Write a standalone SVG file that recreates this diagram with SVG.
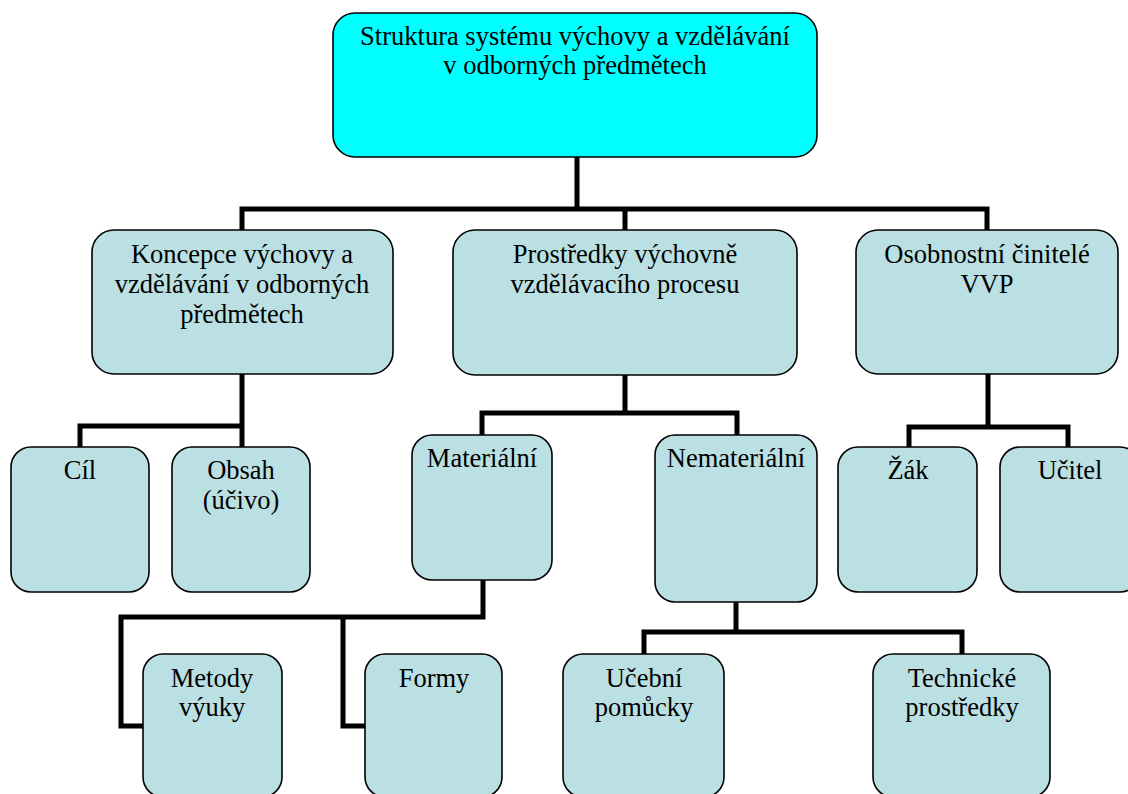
<svg xmlns="http://www.w3.org/2000/svg" width="1128" height="794" viewBox="0 0 1128 794" font-family="Liberation Serif, Times New Roman, DejaVu Serif, serif">
<style>
.box{fill:#BBE0E3;stroke:#000;stroke-width:1.6}
.root{fill:#00FFFF;stroke:#000;stroke-width:1.6}
.t{font-size:26.5px;fill:#000;text-anchor:middle}
.c{fill:none;stroke:#000;stroke-width:5;stroke-linejoin:miter;stroke-linecap:square}
</style>
<rect width="1128" height="794" fill="#fff"/>
<g id="connectors">
<path class="c" d="M577 158V209M242 229V209H987V229M625 209V229"/>
<path class="c" d="M242 375V426H80V446M242 426V446"/>
<path class="c" d="M625 376V413H482V434M625 413H737V434"/>
<path class="c" d="M988 375V427H909V446M988 427H1068V446"/>
<path class="c" d="M483 581V617H121V726H143M343 617V726H365"/>
<path class="c" d="M736 603V632H644V653M736 632H962V653"/>
</g>
<g id="root"><rect class="root" x="333" y="13" width="484" height="144" rx="22"/>
<text class="t" x="575" y="45">Struktura systému výchovy a vzdělávání</text>
<text class="t" x="575" y="74">v odborných předmětech</text></g>
<g id="koncepce"><rect class="box" x="92" y="230" width="301" height="144" rx="22"/>
<text class="t" x="242" y="263">Koncepce výchovy a</text>
<text class="t" x="242" y="293">vzdělávání v odborných</text>
<text class="t" x="242" y="323">předmětech</text></g>
<g id="prostredky"><rect class="box" x="453" y="230" width="344" height="145" rx="22"/>
<text class="t" x="625" y="263">Prostředky výchovně</text>
<text class="t" x="625" y="293">vzdělávacího procesu</text></g>
<g id="osobnostni"><rect class="box" x="856" y="230" width="262" height="144" rx="22"/>
<text class="t" x="987" y="263">Osobnostní činitelé</text>
<text class="t" x="987" y="293">VVP</text></g>
<g id="cil"><rect class="box" x="11" y="447" width="138" height="145" rx="20"/>
<text class="t" x="80" y="479">Cíl</text></g>
<g id="obsah"><rect class="box" x="172" y="447" width="138" height="145" rx="20"/>
<text class="t" x="241" y="479">Obsah</text>
<text class="t" x="241" y="509">(účivo)</text></g>
<g id="materialni"><rect class="box" x="412" y="435" width="140" height="145" rx="20"/>
<text class="t" x="482" y="467">Materiální</text></g>
<g id="nematerialni"><rect class="box" x="655" y="435" width="162" height="167" rx="20"/>
<text class="t" x="736" y="467">Nemateriální</text></g>
<g id="zak"><rect class="box" x="838" y="447" width="139" height="145" rx="20"/>
<text class="t" x="908" y="479">Žák</text></g>
<g id="ucitel"><rect class="box" x="1000" y="447" width="140" height="145" rx="20"/>
<text class="t" x="1070" y="479">Učitel</text></g>
<g id="metody"><rect class="box" x="143" y="654" width="139" height="143" rx="20"/>
<text class="t" x="212" y="687">Metody</text>
<text class="t" x="212" y="716">výuky</text></g>
<g id="formy"><rect class="box" x="365" y="654" width="137" height="143" rx="20"/>
<text class="t" x="434" y="687">Formy</text></g>
<g id="ucebni"><rect class="box" x="563" y="654" width="161" height="143" rx="20"/>
<text class="t" x="644" y="687">Učební</text>
<text class="t" x="644" y="716">pomůcky</text></g>
<g id="technicke"><rect class="box" x="873" y="654" width="177" height="143" rx="20"/>
<text class="t" x="962" y="687">Technické</text>
<text class="t" x="962" y="716">prostředky</text></g>
</svg>
